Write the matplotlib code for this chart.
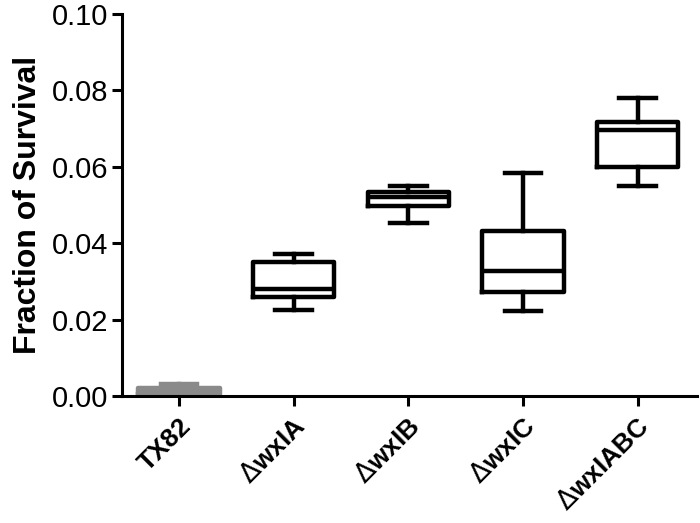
import matplotlib
matplotlib.use("Agg")
import matplotlib.pyplot as plt

plt.rcParams['font.family'] = ['Liberation Sans', 'DejaVu Sans']
plt.rcParams['mathtext.fontset'] = 'dejavusans'

# Daten
strains = ['TX82', r'$\Delta$wxIA', r'$\Delta$wxIB', r'$\Delta$wxIC', r'$\Delta$wxIABC']
whisker_low = [0.0002, 0.0225, 0.0452, 0.0222, 0.0551]
q1 = [0.0006, 0.0258, 0.0497, 0.0272, 0.0600]
median = [0.0012, 0.0279, 0.0522, 0.0326, 0.0697]
q3 = [0.0022, 0.0350, 0.0535, 0.0431, 0.0718]
whisker_high = [0.0032, 0.0371, 0.0551, 0.0585, 0.0781]

stats = []
for i, name in enumerate(strains):
    stats.append(dict(label=name, whislo=whisker_low[i], q1=q1[i], med=median[i],
                      q3=q3[i], whishi=whisker_high[i], fliers=[]))

fig = plt.figure(figsize=(7, 5.23), dpi=100)
ax = fig.add_axes([0.174, 0.243, 0.822, 0.730])

lw = 3.2
# alle Boxen schwarz zeichnen, TX82 grau
for i, s in enumerate(stats):
    col = '#8a8a8a' if i == 0 else 'black'
    ax.bxp([s], positions=[i], widths=0.71, showfliers=False,
           boxprops=dict(linewidth=lw, color=col),
           whiskerprops=dict(linewidth=lw, color=col),
           capprops=dict(linewidth=lw, color=col),
           medianprops=dict(linewidth=lw, color=col),
           capwidths=0.32)

ax.set_xlim(-0.5, 4.52)
ax.set_ylim(0, 0.10)
ax.set_yticks([0.00, 0.02, 0.04, 0.06, 0.08, 0.10])
ax.set_yticklabels(['0.00', '0.02', '0.04', '0.06', '0.08', '0.10'], fontsize=21)
ax.set_xticks(range(len(strains)))
ax.set_xticklabels(strains, rotation=45, ha='right', va='top',
                   rotation_mode='anchor', fontsize=19, fontweight='bold')
ax.set_ylabel('Fraction of Survival', fontsize=23, fontweight='bold', labelpad=6)

for side in ['top', 'right']:
    ax.spines[side].set_visible(False)
for side in ['left', 'bottom']:
    ax.spines[side].set_linewidth(2.2)
ax.tick_params(axis='both', width=2.2, length=7, direction='out')
ax.tick_params(axis='y', pad=3)
ax.tick_params(axis='x', pad=6)

fig.savefig('out.png', dpi=100)
